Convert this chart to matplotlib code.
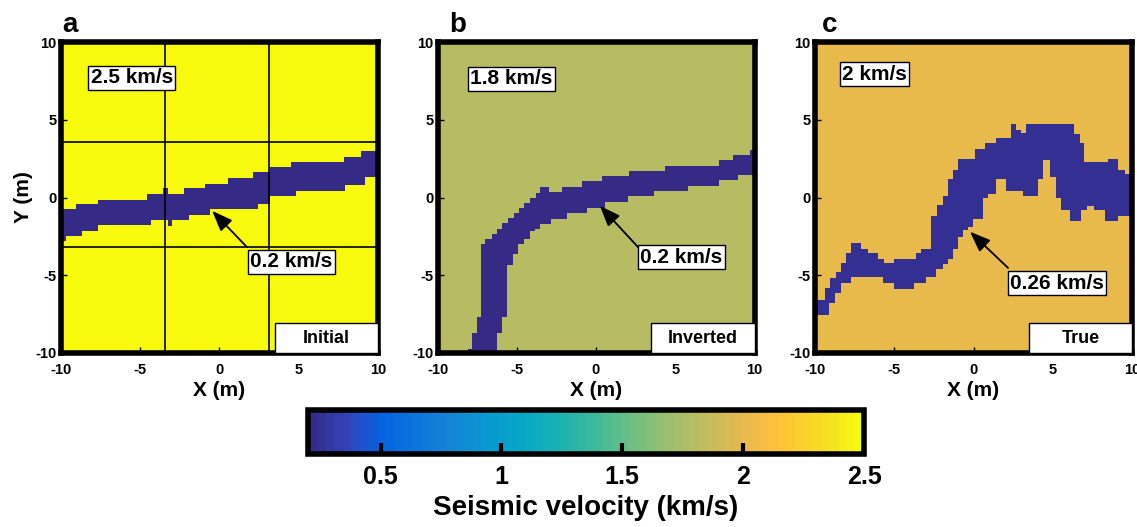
import numpy as np
import matplotlib
matplotlib.use("Agg")
import matplotlib.pyplot as plt
from matplotlib.colors import LinearSegmentedColormap, Normalize
from matplotlib.patches import Rectangle

plt.rcParams['font.family'] = ['Liberation Sans', 'DejaVu Sans']
plt.rcParams['font.weight'] = 'bold'
plt.rcParams['axes.unicode_minus'] = False

# velocities (km/s)
v_min, v_max = 0.2, 2.5
bg_vel = [2.5, 1.8, 2.0]
ch_vel = [0.2, 0.2, 0.26]
bg_labels = ["2.5 km/s", "1.8 km/s", "2 km/s"]
ch_labels = ["0.2 km/s", "0.2 km/s", "0.26 km/s"]
model_names = ["Initial", "Inverted", "True"]
panel_letters = ["a", "b", "c"]

# channel edges: step functions of x (m)
a_top_x = [-10, -9.04, -7.65, -4.57, -3.58, -3.27, -2.26, -0.90, 0.52, 2.14, 3.19, 4.51, 7.86, 8.91]
a_top_y = [-0.76, -0.39, -0.12, 0.24, 0.59, 0.24, 0.59, 0.91, 1.27, 1.63, 1.97, 2.27, 2.61, 2.95]
a_bot_x = [-10, -9.7, -8.7, -7.65, -4.3, -3.27, -2.96, -1.9, -0.6, 2.4, 3.2, 4.85, 7.9, 9.2]
a_bot_y = [-2.8, -2.45, -2.15, -1.8, -1.45, -1.82, -1.45, -1.1, -0.75, -0.4, 0.1, 0.45, 0.8, 1.3]

b_top_x = [-8.13, -7.86, -7.57, -7.25, -7.04, -6.60, -6.25, -5.93, -5.56, -5.24, -4.88, -4.57,
           -4.19, -3.84, -3.52, -2.96, -2.20, -0.90, 0.36, 2.03, 4.34, 7.69, 8.64, 9.69]
b_top_y = [-9.75, -8.74, -7.68, -2.99, -2.67, -2.35, -2.03, -1.67, -1.33, -0.97, -0.65, -0.33,
           -0.01, 0.31, 0.70, 0.35, 0.70, 1.05, 1.37, 1.69, 2.03, 2.40, 2.72, 3.08]
b_bot_x = [-8.13, -6.25, -5.93, -5.62, -5.26, -4.92, -4.57, -4.21, -3.88, -3.52, -2.89, -1.85,
           -0.59, 0.57, 1.99, 3.61, 5.76, 7.69, 8.95]
b_bot_y = [-10, -8.74, -7.68, -4.38, -3.63, -2.99, -2.67, -2.14, -2.03, -1.72, -1.39, -0.97,
           -0.65, -0.29, 0.06, 0.42, 0.78, 1.12, 1.48]

c_top_x = [-10, -9.41, -9.03, -8.67, -8.36, -8.04, -7.73, -7.09, -6.67, -6.04, -5.62, -4.99,
           -3.62, -3.31, -2.67, -2.32, -1.94, -1.62, -1.31, -0.99, 0.06, 0.69, 1.43, 2.38,
           2.69, 3.01, 3.33, 6.38, 6.69, 7.01, 8.48, 9.12, 9.54]
c_top_y = [-6.6, -5.85, -5.2, -4.8, -4.25, -3.6, -2.95, -3.3, -3.6, -3.95, -4.25, -3.95,
           -3.6, -3.3, -1.15, -0.5, 0.1, 1.15, 1.8, 2.45, 3.1, 3.5, 3.85, 4.7,
           4.35, 4.15, 4.7, 4.05, 3.5, 2.25, 2.45, 1.8, 1.5]
c_bot_x = [-10, -9.09, -8.78, -8.36, -7.73, -5.73, -4.99, -3.73, -2.99, -2.36, -1.94, -1.62,
           -1.31, -0.99, -0.67, -0.36, 0, 0.59, 0.91, 1.43, 2.06, 3.12, 4.06, 4.38,
           4.8, 5.22, 5.54, 6.06, 6.8, 7.12, 7.64, 8.27, 9.12]
c_bot_y = [-7.55, -6.8, -6.15, -5.5, -5.1, -5.5, -5.85, -5.5, -5.1, -4.55, -4.25, -3.95,
           -3.3, -2.55, -2.1, -1.9, -1.4, 0.0, 0.2, 1.15, 0.45, 0.1, 1.15, 2.45,
           1.3, 0.0, -0.85, -1.5, -0.85, -0.55, -0.85, -1.5, -1.15]

# label / arrow positions (m)
bg_label_xy = [(-5.53, 7.7), (-5.35, 7.63), (-6.25, 7.94)]
ch_label_xy = [(4.53, -4.12), (5.38, -3.83), (5.27, -5.5)]
arrow_tip = [(-0.46, -0.86), (0.25, -0.54), (-0.22, -2.2)]
arrow_tail = [(1.74, -3.2), (2.66, -3.2), (2.18, -4.53)]
grid_x = [-3.45, 3.15]
grid_y = [3.55, -3.2]

# parula-like colormap
parula_pts = [(0.2081, 0.1663, 0.5292), (0.1959, 0.2645, 0.7279), (0.0117, 0.3875, 0.8820),
              (0.0498, 0.4586, 0.8641), (0.0793, 0.5200, 0.8312), (0.0343, 0.5966, 0.8199),
              (0.0228, 0.6535, 0.7768), (0.0843, 0.6928, 0.7062), (0.2178, 0.7250, 0.6193),
              (0.3953, 0.7459, 0.5244), (0.5709, 0.7485, 0.4494), (0.7184, 0.7411, 0.3905),
              (0.8507, 0.7299, 0.3360), (0.9739, 0.7314, 0.2666), (0.9990, 0.7653, 0.2164),
              (0.9880, 0.8066, 0.1794), (0.9589, 0.8949, 0.1132), (0.9763, 0.9831, 0.0538)]
parula_pos = [0, 4, 8, 12, 16, 20, 24, 28, 32, 36, 40, 44, 48, 52, 54, 56, 60, 63]
cmap = LinearSegmentedColormap.from_list(
    "parula", [(p / 63, c) for p, c in zip(parula_pos, parula_pts)], N=64)
norm = Normalize(v_min, v_max)


def step_at(xs, ys, x):
    idx = np.searchsorted(xs, x, side='right') - 1
    return np.asarray(ys)[np.clip(idx, 0, len(ys) - 1)], idx >= 0


def build_model(top_x, top_y, bot_x, bot_y, v_bg, v_ch, n=600):
    c = np.linspace(-10, 10, n + 1)
    c = (c[:-1] + c[1:]) / 2
    top, ok1 = step_at(top_x, top_y, c)
    bot, ok2 = step_at(bot_x, bot_y, c)
    Y = c[:, None]
    mask = (Y >= bot[None, :]) & (Y <= top[None, :]) & ok1[None, :] & ok2[None, :]
    grid = np.full((n, n), v_bg)
    grid[mask] = v_ch
    return grid


edges = [(a_top_x, a_top_y, a_bot_x, a_bot_y),
         (b_top_x, b_top_y, b_bot_x, b_bot_y),
         (c_top_x, c_top_y, c_bot_x, c_bot_y)]

fig = plt.figure(figsize=(11.37, 5.27), dpi=100)
W, H = 1137, 527
lefts = [61, 437.5, 815]
letter_x = [62, 449, 822]

for i in range(3):
    ax = fig.add_axes([lefts[i] / W, 1 - 353 / H, 317 / W, 311 / H])
    grid = build_model(*edges[i], bg_vel[i], ch_vel[i])
    im = ax.imshow(grid, origin='lower', extent=[-10, 10, -10, 10], cmap=cmap, norm=norm,
                   interpolation='nearest', aspect='auto')
    ax.set_xlim(-10, 10)
    ax.set_ylim(-10, 10)
    ax.set_xticks([-10, -5, 0, 5, 10])
    ax.set_yticks([-10, -5, 0, 5, 10])
    ax.tick_params(direction='in', length=4, width=1, labelsize=10.5)
    ax.tick_params(axis='x', pad=7)
    ax.tick_params(axis='y', pad=3)
    for s in ax.spines.values():
        s.set_linewidth(4)
    ax.set_xlabel("X (m)", fontsize=15, fontweight='bold', labelpad=3)
    if i == 0:
        ax.set_ylabel("Y (m)", fontsize=15, fontweight='bold', labelpad=2)
        for gx in grid_x:
            ax.axvline(gx, color='k', lw=1.2)
        for gy in grid_y:
            ax.axhline(gy, color='k', lw=1.2)

    bx, by = bg_label_xy[i]
    ax.text(bx, by, bg_labels[i], ha='center', va='center', fontsize=15, fontweight='bold',
            bbox=dict(boxstyle='square,pad=0.12', fc='white', ec='k', lw=1))
    ax.annotate('', xy=arrow_tip[i], xytext=arrow_tail[i],
                arrowprops=dict(arrowstyle='-|>,head_length=0.9,head_width=0.35',
                                color='k', lw=1.3, shrinkA=0, shrinkB=0, mutation_scale=14))
    cx, cy = ch_label_xy[i]
    ax.text(cx, cy, ch_labels[i], ha='center', va='center', fontsize=15, fontweight='bold',
            bbox=dict(boxstyle='square,pad=0.12', fc='white', ec='k', lw=1))

    ax.add_patch(Rectangle((0.675, 0.0), 0.325, 0.095, transform=ax.transAxes,
                           fc='white', ec='k', lw=1, zorder=5))
    ax.text(0.8375, 0.048, model_names[i], transform=ax.transAxes, ha='center', va='center',
            fontsize=13, fontweight='bold', zorder=6)

    fig.text(letter_x[i] / W, 1 - 32 / H, panel_letters[i], fontsize=20, fontweight='bold',
             va='baseline', ha='left')

cax = fig.add_axes([308 / W, 1 - 454 / H, 556 / W, 44 / H])
cb = fig.colorbar(im, cax=cax, orientation='horizontal')
cb.set_ticks([0.5, 1, 1.5, 2, 2.5])
cb.set_ticklabels(["0.5", "1", "1.5", "2", "2.5"])
cb.outline.set_linewidth(4)
cax.tick_params(direction='in', length=8, width=3, labelsize=18, pad=8)
cb.set_label("Seismic velocity (km/s)", fontsize=20, fontweight='bold', labelpad=4)

fig.savefig("out.png", dpi=100)
